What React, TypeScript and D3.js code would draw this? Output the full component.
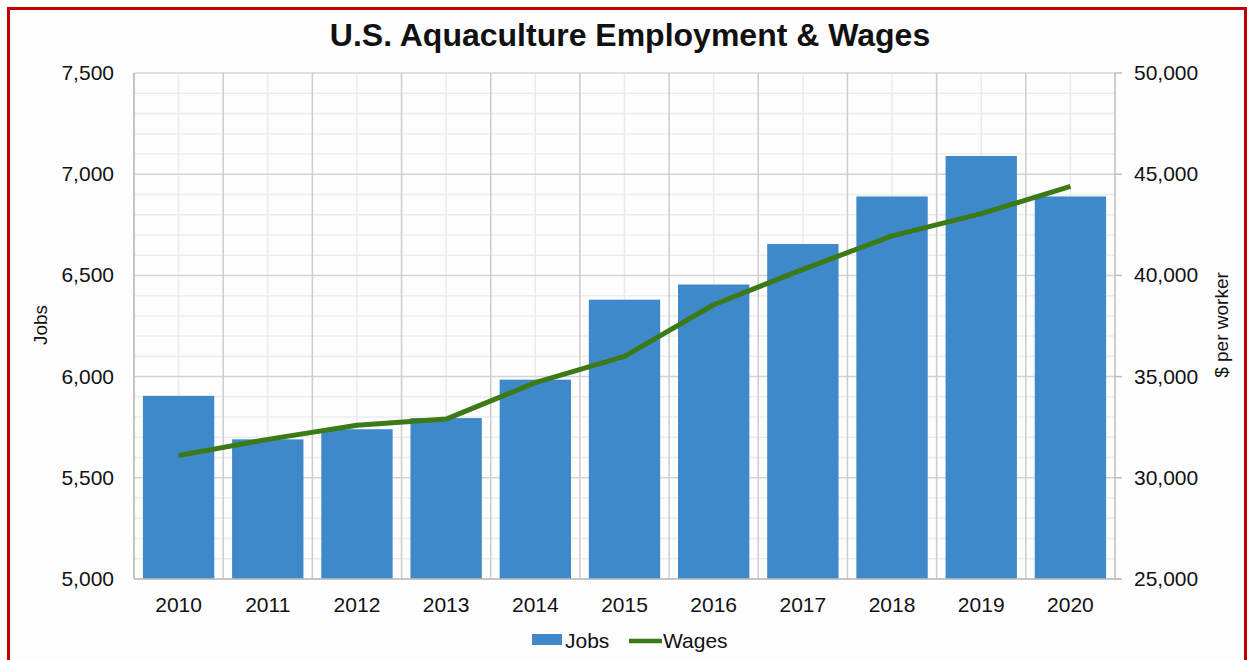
import React from "react";
import * as d3 from "d3";

const years = ["2010", "2011", "2012", "2013", "2014", "2015", "2016", "2017", "2018", "2019", "2020"];
const jobs = [5905, 5690, 5740, 5795, 5985, 6380, 6455, 6655, 6890, 7090, 6890];
const wages = [31100, 31900, 32600, 32900, 34700, 36000, 38550, 40300, 41950, 43050, 44400];
const jobTicks = [5000, 5500, 6000, 6500, 7000, 7500];
const wageTicks = [25000, 30000, 35000, 40000, 45000, 50000];

const App = () => {
  const width = 1249;
  const height = 660;
  const M = { left: 134, right: 1115, top: 73, bottom: 579 };
  const font = "'Liberation Sans', Arial, sans-serif";

  const xScale = d3.scaleBand().domain(years).range([M.left, M.right]).paddingInner(0.2).paddingOuter(0.1);
  const xStep = d3.scaleBand().domain(years).range([M.left, M.right]);
  const yJobs = d3.scaleLinear().domain([5000, 7500]).range([M.bottom, M.top]);
  const yWages = d3.scaleLinear().domain([25000, 50000]).range([M.bottom, M.top]);
  const fmt = d3.format(",");

  const minorTicks = d3.range(5000, 7501, 100).filter((v) => v % 500 !== 0);

  const line = d3
    .line<number>()
    .x((_, i) => (xStep(years[i]) as number) + xStep.bandwidth() / 2)
    .y((d) => yWages(d));

  return (
    <svg width={width} height={height} style={{ position: "absolute", left: 0, top: 0, background: "#fdfdfd" }}>
      <rect x={8.5} y={8.5} width={1237} height={700} fill="#fdfdfd" stroke="#c00000" strokeWidth={3} />

      <text x={630} y={46} textAnchor="middle" fontFamily={font} fontWeight="bold" fontSize={32} fill="#111">
        U.S. Aquaculture Employment &amp; Wages
      </text>

      {/* minor horizontal grid */}
      {minorTicks.map((v) => (
        <line key={"mh" + v} x1={M.left} x2={M.right} y1={yJobs(v)} y2={yJobs(v)} stroke="#ececec" strokeWidth={1.5} />
      ))}
      {/* minor vertical grid at category centres */}
      {years.map((y) => (
        <line
          key={"mv" + y}
          x1={(xStep(y) as number) + xStep.bandwidth() / 2}
          x2={(xStep(y) as number) + xStep.bandwidth() / 2}
          y1={M.top}
          y2={M.bottom}
          stroke="#ebebeb"
          strokeWidth={1.5}
        />
      ))}
      {/* major horizontal grid */}
      {jobTicks.map((v) => (
        <line key={"h" + v} x1={M.left} x2={M.right} y1={yJobs(v)} y2={yJobs(v)} stroke="#d4d4d4" strokeWidth={1.5} />
      ))}
      {/* major vertical grid between categories */}
      {years.map((y) => (
        <line
          key={"v" + y}
          x1={xStep(y)}
          x2={xStep(y)}
          y1={M.top}
          y2={M.bottom}
          stroke="#cccccc"
          strokeWidth={1.5}
        />
      ))}

      {years.map((y, i) => (
        <rect
          key={"b" + y}
          x={xScale(y)}
          y={yJobs(jobs[i])}
          width={xScale.bandwidth()}
          height={M.bottom - yJobs(jobs[i])}
          fill="#3f88c9"
        />
      ))}

      <path d={line(wages) || ""} fill="none" stroke="#3c7a17" strokeWidth={5} strokeLinejoin="round" />

      {/* axes */}
      <line x1={M.left} x2={M.left} y1={M.top} y2={M.bottom} stroke="#bdbdbd" strokeWidth={1.5} />
      <line x1={M.right} x2={M.right} y1={M.top} y2={M.bottom} stroke="#bdbdbd" strokeWidth={1.5} />
      <line x1={M.left} x2={M.right + 6} y1={M.bottom} y2={M.bottom} stroke="#bdbdbd" strokeWidth={1.5} />
      {wageTicks.map((v) => (
        <line key={"rt" + v} x1={M.right} x2={M.right + 7} y1={yWages(v)} y2={yWages(v)} stroke="#bdbdbd" strokeWidth={1.5} />
      ))}

      {jobTicks.map((v) => (
        <text key={"lt" + v} x={114} y={yJobs(v) + 7} textAnchor="end" fontFamily={font} fontSize={21} fill="#111">
          {fmt(v)}
        </text>
      ))}
      {wageTicks.map((v) => (
        <text key={"rl" + v} x={1134} y={yWages(v) + 7} textAnchor="start" fontFamily={font} fontSize={21} fill="#111">
          {fmt(v)}
        </text>
      ))}
      {years.map((y) => (
        <text
          key={"xl" + y}
          x={(xStep(y) as number) + xStep.bandwidth() / 2}
          y={612}
          textAnchor="middle"
          fontFamily={font}
          fontSize={21}
          fill="#111"
        >
          {y}
        </text>
      ))}

      <text transform="translate(47,325) rotate(-90)" textAnchor="middle" fontFamily={font} fontSize={19} fill="#111">
        Jobs
      </text>
      <text transform="translate(1228,325) rotate(-90)" textAnchor="middle" fontFamily={font} fontSize={19} fill="#111">
        $ per worker
      </text>

      {/* legend */}
      <rect x={532} y={634} width={30} height={11} fill="#3f88c9" />
      <text x={565} y={648} fontFamily={font} fontSize={21} fill="#111">Jobs</text>
      <line x1={629} x2={662} y1={641} y2={641} stroke="#3c7a17" strokeWidth={4.5} />
      <text x={663} y={648} fontFamily={font} fontSize={21} fill="#111">Wages</text>
    </svg>
  );
};

export default App;
